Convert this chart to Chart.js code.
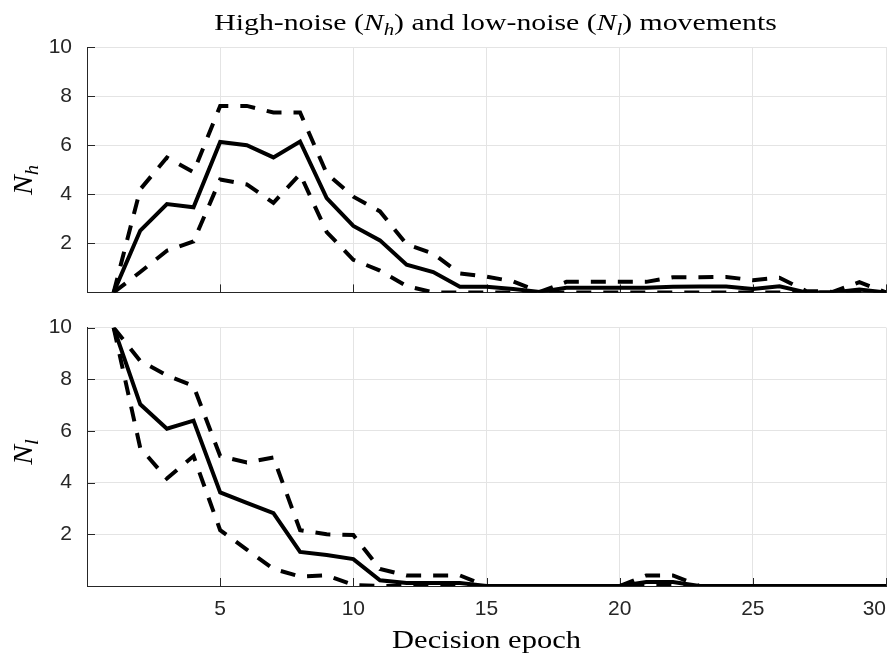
<!DOCTYPE html>
<html>
<head>
<meta charset="utf-8">
<script src="https://cdn.jsdelivr.net/npm/chart.js@4.4.0/dist/chart.umd.min.js"></script>
<style>
  html, body { margin: 0; padding: 0; background: #fff; }
  #wrap { position: relative; width: 896px; height: 655px; }
  #topChart { position: absolute; left: 0; top: 0; }
  #botChart { position: absolute; left: 0; top: 300px; }
</style>
</head>
<body>
<div id="wrap">
  <canvas id="topChart" width="896" height="320"></canvas>
  <canvas id="botChart" width="896" height="355"></canvas>
</div>
<script>
// decision epochs 1..30
const epochs = [1, 2, 3, 4, 5, 6, 7, 8, 9, 10, 11, 12, 13, 14, 15,
                16, 17, 18, 19, 20, 21, 22, 23, 24, 25, 26, 27, 28, 29, 30];

// high-noise movements N_h (mean and the two dashed bounds)
const nhMean  = [0, 2.52, 3.6, 3.47, 6.13, 6.0, 5.5, 6.15, 3.84, 2.71, 2.12, 1.13, 0.83, 0.23, 0.23,
                 0.14, 0.02, 0.19, 0.19, 0.19, 0.19, 0.23, 0.24, 0.24, 0.14, 0.25, 0, 0, 0.12, 0];
const nhUpper = [0, 4.2, 5.5, 4.9, 7.6, 7.6, 7.33, 7.33, 4.85, 3.9, 3.3, 1.96, 1.58, 0.77, 0.64,
                 0.45, 0.02, 0.43, 0.43, 0.43, 0.43, 0.62, 0.62, 0.63, 0.5, 0.6, 0.06, 0.02, 0.42, 0];
const nhLower = [0, 0.83, 1.7, 2.08, 4.6, 4.4, 3.65, 4.82, 2.46, 1.33, 0.89, 0.26, 0, 0, 0,
                 0, 0, 0, 0, 0, 0, 0, 0, 0, 0, 0, 0, 0, 0, 0];

// low-noise movements N_l
const nlMean  = [10, 7.03, 6.09, 6.4, 3.62, 3.22, 2.82, 1.32, 1.2, 1.04, 0.22, 0.12, 0.12, 0.12, 0,
                 0, 0, 0, 0, 0, 0.15, 0.15, 0, 0, 0, 0, 0, 0, 0, 0];
const nlUpper = [10, 8.71, 8.15, 7.74, 5.03, 4.78, 4.97, 2.16, 2.0, 1.97, 0.66, 0.41, 0.41, 0.41, 0,
                 0, 0, 0, 0, 0, 0.41, 0.41, 0, 0, 0, 0, 0, 0, 0, 0];
const nlLower = [10, 5.34, 4.16, 5.03, 2.16, 1.41, 0.66, 0.37, 0.41, 0.04, 0, 0, 0, 0, 0,
                 0, 0, 0, 0, 0, 0, 0, 0, 0, 0, 0, 0, 0, 0, 0];

const xTicks = [0, 5, 10, 15, 20, 25, 30];
const yTicks = [0, 2, 4, 6, 8, 10];

// text pieces: [text, italic, subscript]
const titleParts = [['High-noise (', false, false], ['N', true, false], ['h', true, true],
                    [') and low-noise (', false, false], ['N', true, false], ['l', true, true],
                    [') movements', false, false]];
const nhLabel = [['N', true, false], ['h', true, true]];
const nlLabel = [['N', true, false], ['l', true, true]];
const xLabel = [['Decision epoch', false, false]];

const axisColor = '#262626';
const gridColor = '#e4e4e4';
const serif = '"Liberation Serif", "DejaVu Serif", serif';
const sans = '"Liberation Sans", Arial, sans-serif';

function pts(arr) {
    return epochs.map((e, i) => ({ x: e, y: arr[i] }));
}

function series(arr, dashed) {
    return {
        data: pts(arr),
        borderColor: '#000',
        borderWidth: 4,
        borderDash: dashed ? [15, 12] : [],
        borderCapStyle: 'butt',
        pointRadius: 0,
        tension: 0,
        fill: false
    };
}

// draws text with italic / subscript pieces, centred on (cx, cy); stretch widens it like the LaTeX font
function drawRich(ctx, parts, cx, cy, size, stretch) {
    const fontOf = p => (p[1] ? 'italic ' : '') + (p[2] ? size * 0.7 : size) + 'px ' + serif;
    let total = 0;
    const widths = parts.map(p => {
        ctx.font = fontOf(p);
        const w = ctx.measureText(p[0]).width;
        total += w;
        return w;
    });
    ctx.save();
    ctx.translate(cx, cy);
    ctx.scale(stretch, 1);
    let x = -total / 2;
    ctx.fillStyle = '#000';
    ctx.textBaseline = 'alphabetic';
    ctx.textAlign = 'left';
    parts.forEach((p, i) => {
        ctx.font = fontOf(p);
        const y = size * 0.33 + (p[2] ? size * 0.22 : 0);
        ctx.fillText(p[0], x, y);
        x += widths[i];
    });
    ctx.restore();
}

// MATLAB style ticks pointing into the plot
const innerTicks = {
    id: 'innerTicks',
    beforeDatasetsDraw(chart) {
        const { ctx, chartArea, scales } = chart;
        ctx.save();
        ctx.strokeStyle = axisColor;
        ctx.lineWidth = 1;
        ctx.beginPath();
        yTicks.forEach(v => {
            const py = Math.round(scales.y.getPixelForValue(v)) + 0.5;
            ctx.moveTo(chartArea.left, py);
            ctx.lineTo(chartArea.left + 8, py);
        });
        xTicks.forEach(v => {
            if (v === 0) return;
            const px = Math.round(scales.x.getPixelForValue(v)) + 0.5;
            ctx.moveTo(px, chartArea.bottom);
            ctx.lineTo(px, chartArea.bottom - 8);
        });
        ctx.stroke();
        ctx.restore();
    }
};

function makeOptions(isTop) {
    return {
        responsive: false,
        animation: false,
        layout: { padding: isTop ? { top: 47, bottom: 8, left: 0, right: 10 } : { top: 19, bottom: 0, left: 0, right: 10 } },
        plugins: { legend: { display: false }, tooltip: { enabled: false }, title: { display: false } },
        scales: {
            x: {
                type: 'linear', min: 0, max: 30,
                afterBuildTicks: s => { s.ticks = xTicks.map(v => ({ value: v })); },
                ticks: {
                    display: !isTop, padding: 11, color: axisColor, align: 'inner',
                    font: { family: sans, size: 21 },
                    callback: v => (v === 0 ? '' : v)
                },
                grid: { color: gridColor, drawTicks: false, lineWidth: 1 },
                border: { color: axisColor, width: 1 },
                afterFit: s => { s.height = isTop ? 0 : 69; s.paddingRight = 0; s.paddingLeft = 0; }
            },
            y: {
                min: 0, max: 10,
                afterBuildTicks: s => { s.ticks = yTicks.map(v => ({ value: v })); },
                ticks: {
                    padding: 15, color: axisColor,
                    font: { family: sans, size: 21 },
                    callback: v => (v === 0 ? '' : v)
                },
                grid: { color: gridColor, drawTicks: false, lineWidth: 1 },
                border: { color: axisColor, width: 1 },
                afterFit: s => { s.width = 87; }
            }
        }
    };
}

const topLabels = {
    id: 'topLabels',
    afterDraw(chart) {
        const ctx = chart.ctx;
        const mid = (chart.chartArea.left + chart.chartArea.right) / 2;
        ctx.save();
        drawRich(ctx, titleParts, mid + 9, 22, 24, 1.24);
        ctx.translate(23, 180);
        ctx.rotate(-Math.PI / 2);
        drawRich(ctx, nhLabel, 0, 0, 27, 1.1);
        ctx.restore();
    }
};

const botLabels = {
    id: 'botLabels',
    afterDraw(chart) {
        const ctx = chart.ctx;
        const mid = (chart.chartArea.left + chart.chartArea.right) / 2;
        ctx.save();
        drawRich(ctx, xLabel, mid, 340, 25, 1.22);
        ctx.translate(23, 152);
        ctx.rotate(-Math.PI / 2);
        drawRich(ctx, nlLabel, 0, 0, 27, 1.1);
        ctx.restore();
    }
};

new Chart(document.getElementById('topChart').getContext('2d'), {
    type: 'line',
    data: { datasets: [series(nhUpper, true), series(nhLower, true), series(nhMean, false)] },
    options: makeOptions(true),
    plugins: [innerTicks, topLabels]
});

new Chart(document.getElementById('botChart').getContext('2d'), {
    type: 'line',
    data: { datasets: [series(nlUpper, true), series(nlLower, true), series(nlMean, false)] },
    options: makeOptions(false),
    plugins: [innerTicks, botLabels]
});
</script>
</body>
</html>
